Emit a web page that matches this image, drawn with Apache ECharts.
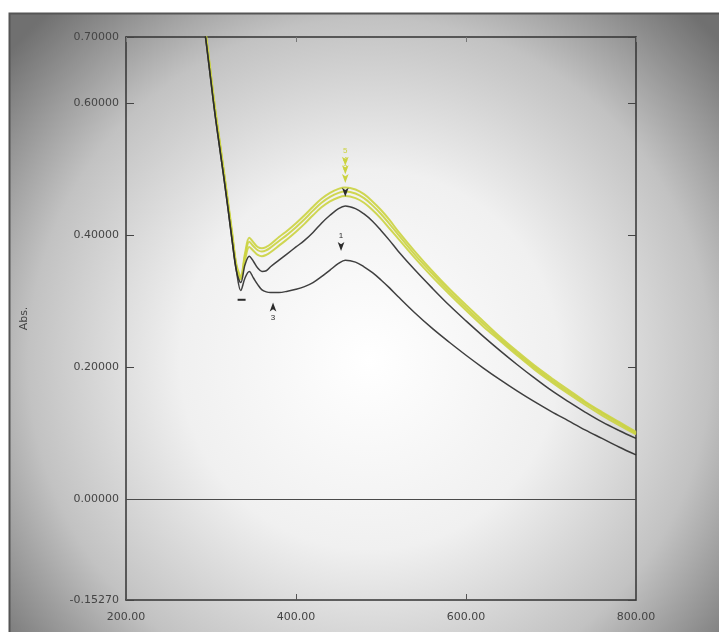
<!DOCTYPE html>
<html>
<head>
    <meta charset="utf-8">
    <title>Abs. spectrum</title>
    <script src="https://cdn.jsdelivr.net/npm/echarts@6/dist/echarts.min.js"></script>
    <style>
        html, body { margin: 0; padding: 0; background: #ffffff; }
        #main { width: 719px; height: 632px; }
    </style>
</head>
<body>
    <div id="main"></div>
    <script>
        // wavelength (nm)
        var wl = [290, 295, 300, 305, 310, 315, 320, 325, 330, 335, 340, 345, 350, 355, 360, 365, 370,
            380, 390, 400, 410, 420, 430, 440, 450, 458, 470, 480, 490, 500, 510, 520,
            540, 560, 580, 600, 620, 640, 660, 680, 700, 720, 740, 760, 780, 800];

        // curve 1 (lowest, black)
        var abs1 = [0.735, 0.685, 0.632, 0.58, 0.534, 0.488, 0.44, 0.39, 0.345, 0.316, 0.335, 0.345, 0.335, 0.325, 0.317, 0.314, 0.313,
            0.313, 0.315, 0.318, 0.322, 0.328, 0.337, 0.347, 0.357, 0.362, 0.359, 0.352, 0.343, 0.332, 0.32, 0.307,
            0.282, 0.259, 0.238, 0.218, 0.199, 0.181, 0.164, 0.148, 0.133, 0.119, 0.105, 0.092, 0.079, 0.067];
        // curve 2 (black)
        var abs2 = [0.735, 0.685, 0.632, 0.58, 0.534, 0.488, 0.44, 0.39, 0.345, 0.328, 0.355, 0.368, 0.36, 0.35, 0.345, 0.346, 0.352,
            0.362, 0.372, 0.382, 0.392, 0.404, 0.418, 0.43, 0.44, 0.444, 0.44, 0.432, 0.421, 0.407, 0.392, 0.376,
            0.347, 0.32, 0.294, 0.27, 0.247, 0.225, 0.204, 0.184, 0.165, 0.148, 0.132, 0.117, 0.104, 0.092];
        // curves 3-5 (yellow)
        var abs3 = [0.74, 0.69, 0.638, 0.586, 0.54, 0.494, 0.446, 0.397, 0.35, 0.333, 0.362, 0.382, 0.376, 0.37, 0.368, 0.37, 0.374,
            0.384, 0.394, 0.405, 0.417, 0.43, 0.442, 0.451, 0.457, 0.459, 0.456, 0.449, 0.438, 0.425, 0.41, 0.395,
            0.365, 0.337, 0.311, 0.286, 0.262, 0.24, 0.218, 0.197, 0.178, 0.16, 0.143, 0.127, 0.112, 0.098];
        var abs4 = [0.742, 0.692, 0.64, 0.588, 0.542, 0.496, 0.448, 0.4, 0.352, 0.336, 0.368, 0.39, 0.383, 0.377, 0.375, 0.377, 0.381,
            0.391, 0.401, 0.412, 0.424, 0.437, 0.449, 0.458, 0.464, 0.466, 0.463, 0.456, 0.445, 0.432, 0.417, 0.401,
            0.37, 0.342, 0.315, 0.29, 0.266, 0.243, 0.221, 0.2, 0.181, 0.163, 0.146, 0.13, 0.115, 0.1];
        var abs5 = [0.745, 0.695, 0.643, 0.591, 0.545, 0.499, 0.451, 0.403, 0.355, 0.338, 0.372, 0.396, 0.389, 0.382, 0.38, 0.382, 0.386,
            0.397, 0.407, 0.418, 0.43, 0.443, 0.455, 0.464, 0.47, 0.472, 0.469, 0.462, 0.451, 0.438, 0.423, 0.406,
            0.375, 0.346, 0.319, 0.294, 0.27, 0.246, 0.224, 0.203, 0.184, 0.166, 0.148, 0.132, 0.117, 0.102];

        var yTicks = [-0.1527, 0, 0.2, 0.4, 0.6, 0.7];
        var xTicks = [200, 400, 600, 800];

        function pairs(ys) {
            return wl.map(function (x, i) { return [x, ys[i]]; });
        }

        var myChart = echarts.init(document.getElementById('main'));

        var lineBlack = '#2b2b2b';
        var lineYellow = '#cbd340';
        var txt = { fontFamily: 'DejaVu Sans', fontSize: 11, color: '#444' };

        function curve(name, ys, color, width, z, marks) {
            return {
                name: name,
                type: 'line',
                data: pairs(ys),
                showSymbol: false,
                smooth: 0.35,
                clip: true,
                z: z,
                lineStyle: { color: color, width: width, opacity: 0.9 },
                markPoint: marks ? {
                    symbol: 'arrow',
                    symbolSize: [5, 9],
                    symbolRotate: 180,
                    itemStyle: { color: color },
                    label: { show: true, position: 'top', fontSize: 8, color: color, distance: 2 },
                    data: marks
                } : undefined
            };
        }

        var s1 = curve('1', abs1, lineBlack, 1.5, 4, [
            { coord: [453, 0.376], value: '1' },
            { coord: [373, 0.298], value: '3', symbolRotate: 0, label: { position: 'bottom' } },
            { coord: [336, 0.302], value: '4', symbol: 'rect', symbolSize: [8, 2], symbolRotate: 0, label: { show: false } }
        ]);
        s1.markLine = {
            silent: true,
            symbol: 'none',
            label: { show: false },
            lineStyle: { color: '#4a4a4a', width: 1.2, type: 'solid' },
            data: [{ yAxis: 0 }]
        };

        myChart.setOption({
            animation: false,
            backgroundColor: '#ffffff',
            graphic: [{
                type: 'rect',
                z: -10,
                silent: true,
                shape: { x: 9.5, y: 13.5, width: 720, height: 630 },
                style: {
                    fill: {
                        type: 'radial', x: 0.5, y: 0.55, r: 0.75,
                        colorStops: [
                            { offset: 0, color: '#ffffff' },
                            { offset: 0.4, color: '#f0f0f0' },
                            { offset: 0.72, color: '#c2c2c2' },
                            { offset: 1, color: '#707070' }
                        ]
                    },
                    stroke: '#555555',
                    lineWidth: 2
                }
            }],
            grid: { left: 126, right: 83, top: 37, bottom: 32, show: false, outerBoundsMode: 'none' },
            xAxis: [{
                type: 'value',
                min: 200, max: 800, interval: 200,
                name: 'nm',
                nameLocation: 'middle',
                nameGap: 34,
                nameTextStyle: txt,
                axisLine: { show: true, onZero: false, lineStyle: { color: '#333', width: 1.5 } },
                axisTick: { show: true, inside: true, length: 6, lineStyle: { color: '#555' } },
                axisLabel: Object.assign({}, txt, {
                    margin: 12,
                    formatter: function (v) { return v.toFixed(2); }
                }),
                splitLine: { show: false }
            }, {
                type: 'value',
                position: 'top',
                min: 200, max: 800, interval: 200,
                axisLine: { show: true, onZero: false, lineStyle: { color: '#333', width: 1.5 } },
                axisTick: { show: true, inside: true, length: 5, lineStyle: { color: '#777' } },
                axisLabel: { show: false },
                splitLine: { show: false }
            }],
            yAxis: [{
                type: 'value',
                min: -0.1527, max: 0.7,
                name: 'Abs.',
                nameLocation: 'middle',
                nameGap: 96,
                nameTextStyle: txt,
                axisLine: { show: true, onZero: false, lineStyle: { color: '#333', width: 1.5 } },
                axisTick: { show: true, inside: true, length: 8, customValues: yTicks, lineStyle: { color: '#444' } },
                axisLabel: Object.assign({}, txt, {
                    margin: 7,
                    customValues: yTicks,
                    formatter: function (v) { return v.toFixed(5); }
                }),
                splitLine: { show: false }
            }, {
                type: 'value',
                position: 'right',
                min: -0.1527, max: 0.7,
                axisLine: { show: true, onZero: false, lineStyle: { color: '#333', width: 1.5 } },
                axisTick: { show: true, inside: true, length: 8, customValues: yTicks, lineStyle: { color: '#444' } },
                axisLabel: { show: false, customValues: yTicks },
                splitLine: { show: false }
            }],
            series: [
                curve('5', abs5, lineYellow, 2, 3, [{ coord: [458, 0.505], value: '5' }]),
                curve('4', abs4, lineYellow, 2, 3, [{ coord: [458, 0.492], value: '4' }]),
                curve('3', abs3, lineYellow, 2, 3, [{ coord: [458, 0.479], value: '3' }]),
                curve('2', abs2, lineBlack, 1.5, 4, [{ coord: [458, 0.458], value: '' }]),
                s1
            ]
        });
    </script>
</body>
</html>
